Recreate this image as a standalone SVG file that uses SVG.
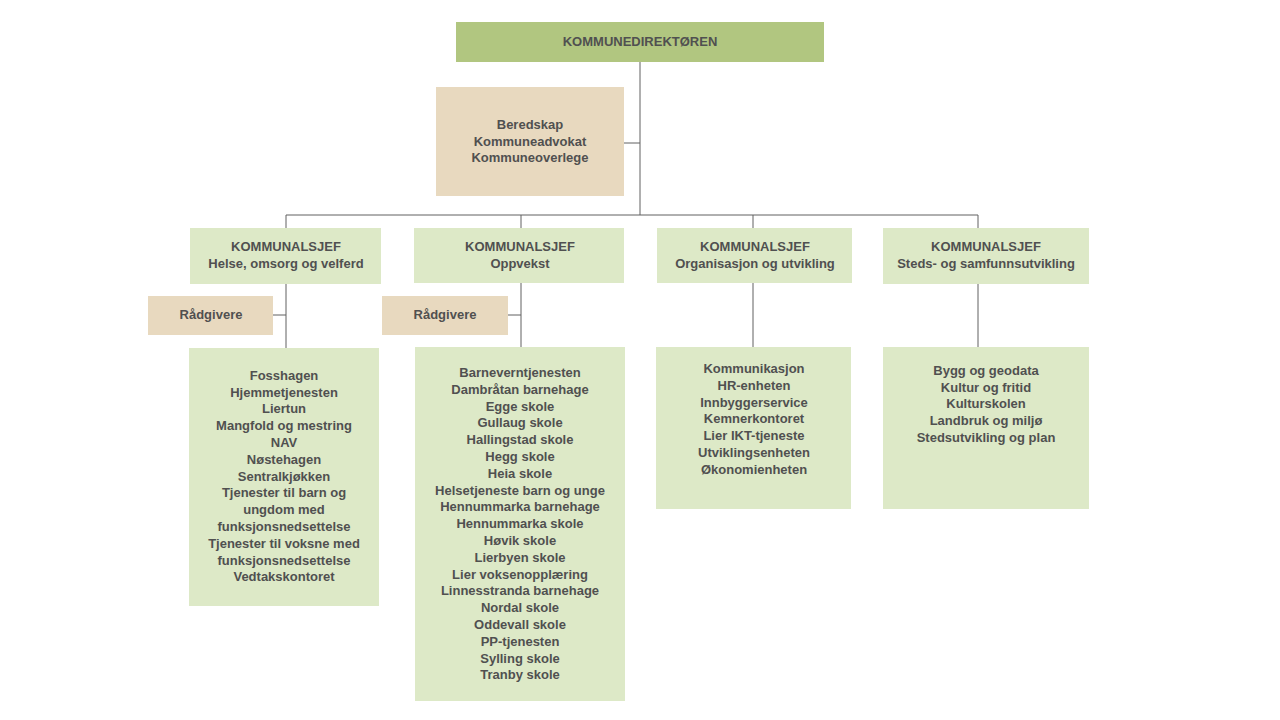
<svg xmlns="http://www.w3.org/2000/svg" width="1280" height="720" viewBox="0 0 1280 720">
<style>
text{font-family:"Liberation Sans",Arial,sans-serif;font-weight:bold;font-size:13px;fill:#505050;text-anchor:middle;dominant-baseline:middle}
.g{fill:#DDE9C7}.t{fill:#E8D9BF}.d{fill:#B1C680}
.c line{stroke:#606060;stroke-width:1}
</style>
<rect width="1280" height="720" fill="#fff"/>
<g class="c">
<line x1="640" y1="62" x2="640" y2="215"/><line x1="624" y1="143" x2="640" y2="143"/>
<line x1="286" y1="215" x2="978" y2="215"/>
<line x1="286" y1="215" x2="286" y2="228"/><line x1="521" y1="215" x2="521" y2="228"/>
<line x1="753" y1="215" x2="753" y2="228"/><line x1="978" y1="215" x2="978" y2="228"/>
<line x1="286" y1="284" x2="286" y2="348"/><line x1="273" y1="315" x2="286" y2="315"/>
<line x1="521" y1="283" x2="521" y2="347"/><line x1="508" y1="315" x2="521" y2="315"/>
<line x1="753" y1="283" x2="753" y2="347"/><line x1="978" y1="284" x2="978" y2="347"/>
</g>
<g id="dir"><rect class="d" x="456" y="22" width="368" height="40"/><text x="640" y="43">KOMMUNEDIREKTØREN</text></g>
<g id="stab"><rect class="t" x="436" y="87" width="188" height="109"/><text x="530" y="126">Beredskap</text><text x="530" y="143">Kommuneadvokat</text><text x="530" y="159">Kommuneoverlege</text></g>
<g id="k1"><rect class="g" x="190" y="228" width="191" height="56"/><text x="286" y="248">KOMMUNALSJEF</text><text x="286" y="265">Helse, omsorg og velferd</text></g>
<g id="k2"><rect class="g" x="414" y="228" width="210" height="55"/><text x="520" y="248">KOMMUNALSJEF</text><text x="520" y="265">Oppvekst</text></g>
<g id="k3"><rect class="g" x="657" y="228" width="195" height="55"/><text x="755" y="248">KOMMUNALSJEF</text><text x="755" y="265">Organisasjon og utvikling</text></g>
<g id="k4"><rect class="g" x="883" y="228" width="206" height="56"/><text x="986" y="248">KOMMUNALSJEF</text><text x="986" y="265">Steds- og samfunnsutvikling</text></g>
<g id="r1"><rect class="t" x="148" y="296" width="125" height="39"/><text x="211" y="316">Rådgivere</text></g>
<g id="r2"><rect class="t" x="382" y="296" width="126" height="39"/><text x="445" y="316">Rådgivere</text></g>
<g id="l1"><rect class="g" x="189" y="348" width="190" height="258"/>
<text x="284" y="377">Fosshagen</text><text x="284" y="394">Hjemmetjenesten</text><text x="284" y="410">Liertun</text><text x="284" y="427">Mangfold og mestring</text><text x="284" y="444">NAV</text><text x="284" y="461">Nøstehagen</text><text x="284" y="478">Sentralkjøkken</text><text x="284" y="494">Tjenester til barn og</text><text x="284" y="511">ungdom med</text><text x="284" y="528">funksjonsnedsettelse</text><text x="284" y="545">Tjenester til voksne med</text><text x="284" y="562">funksjonsnedsettelse</text><text x="284" y="578">Vedtakskontoret</text></g>
<g id="l2"><rect class="g" x="415" y="347" width="210" height="354"/>
<text x="520" y="374">Barneverntjenesten</text><text x="520" y="391">Dambråtan barnehage</text><text x="520" y="408">Egge skole</text><text x="520" y="424">Gullaug skole</text><text x="520" y="441">Hallingstad skole</text><text x="520" y="458">Hegg skole</text><text x="520" y="475">Heia skole</text><text x="520" y="492">Helsetjeneste barn og unge</text><text x="520" y="508">Hennummarka barnehage</text><text x="520" y="525">Hennummarka skole</text><text x="520" y="542">Høvik skole</text><text x="520" y="559">Lierbyen skole</text><text x="520" y="576">Lier voksenopplæring</text><text x="520" y="592">Linnesstranda barnehage</text><text x="520" y="609">Nordal skole</text><text x="520" y="626">Oddevall skole</text><text x="520" y="643">PP-tjenesten</text><text x="520" y="660">Sylling skole</text><text x="520" y="676">Tranby skole</text></g>
<g id="l3"><rect class="g" x="656" y="347" width="195" height="162"/>
<text x="754" y="370">Kommunikasjon</text><text x="754" y="387">HR-enheten</text><text x="754" y="404">Innbyggerservice</text><text x="754" y="420">Kemnerkontoret</text><text x="754" y="437">Lier IKT-tjeneste</text><text x="754" y="454">Utviklingsenheten</text><text x="754" y="471">Økonomienheten</text></g>
<g id="l4"><rect class="g" x="883" y="347" width="206" height="162"/>
<text x="986" y="372">Bygg og geodata</text><text x="986" y="389">Kultur og fritid</text><text x="986" y="405">Kulturskolen</text><text x="986" y="422">Landbruk og miljø</text><text x="986" y="439">Stedsutvikling og plan</text></g>
</svg>
